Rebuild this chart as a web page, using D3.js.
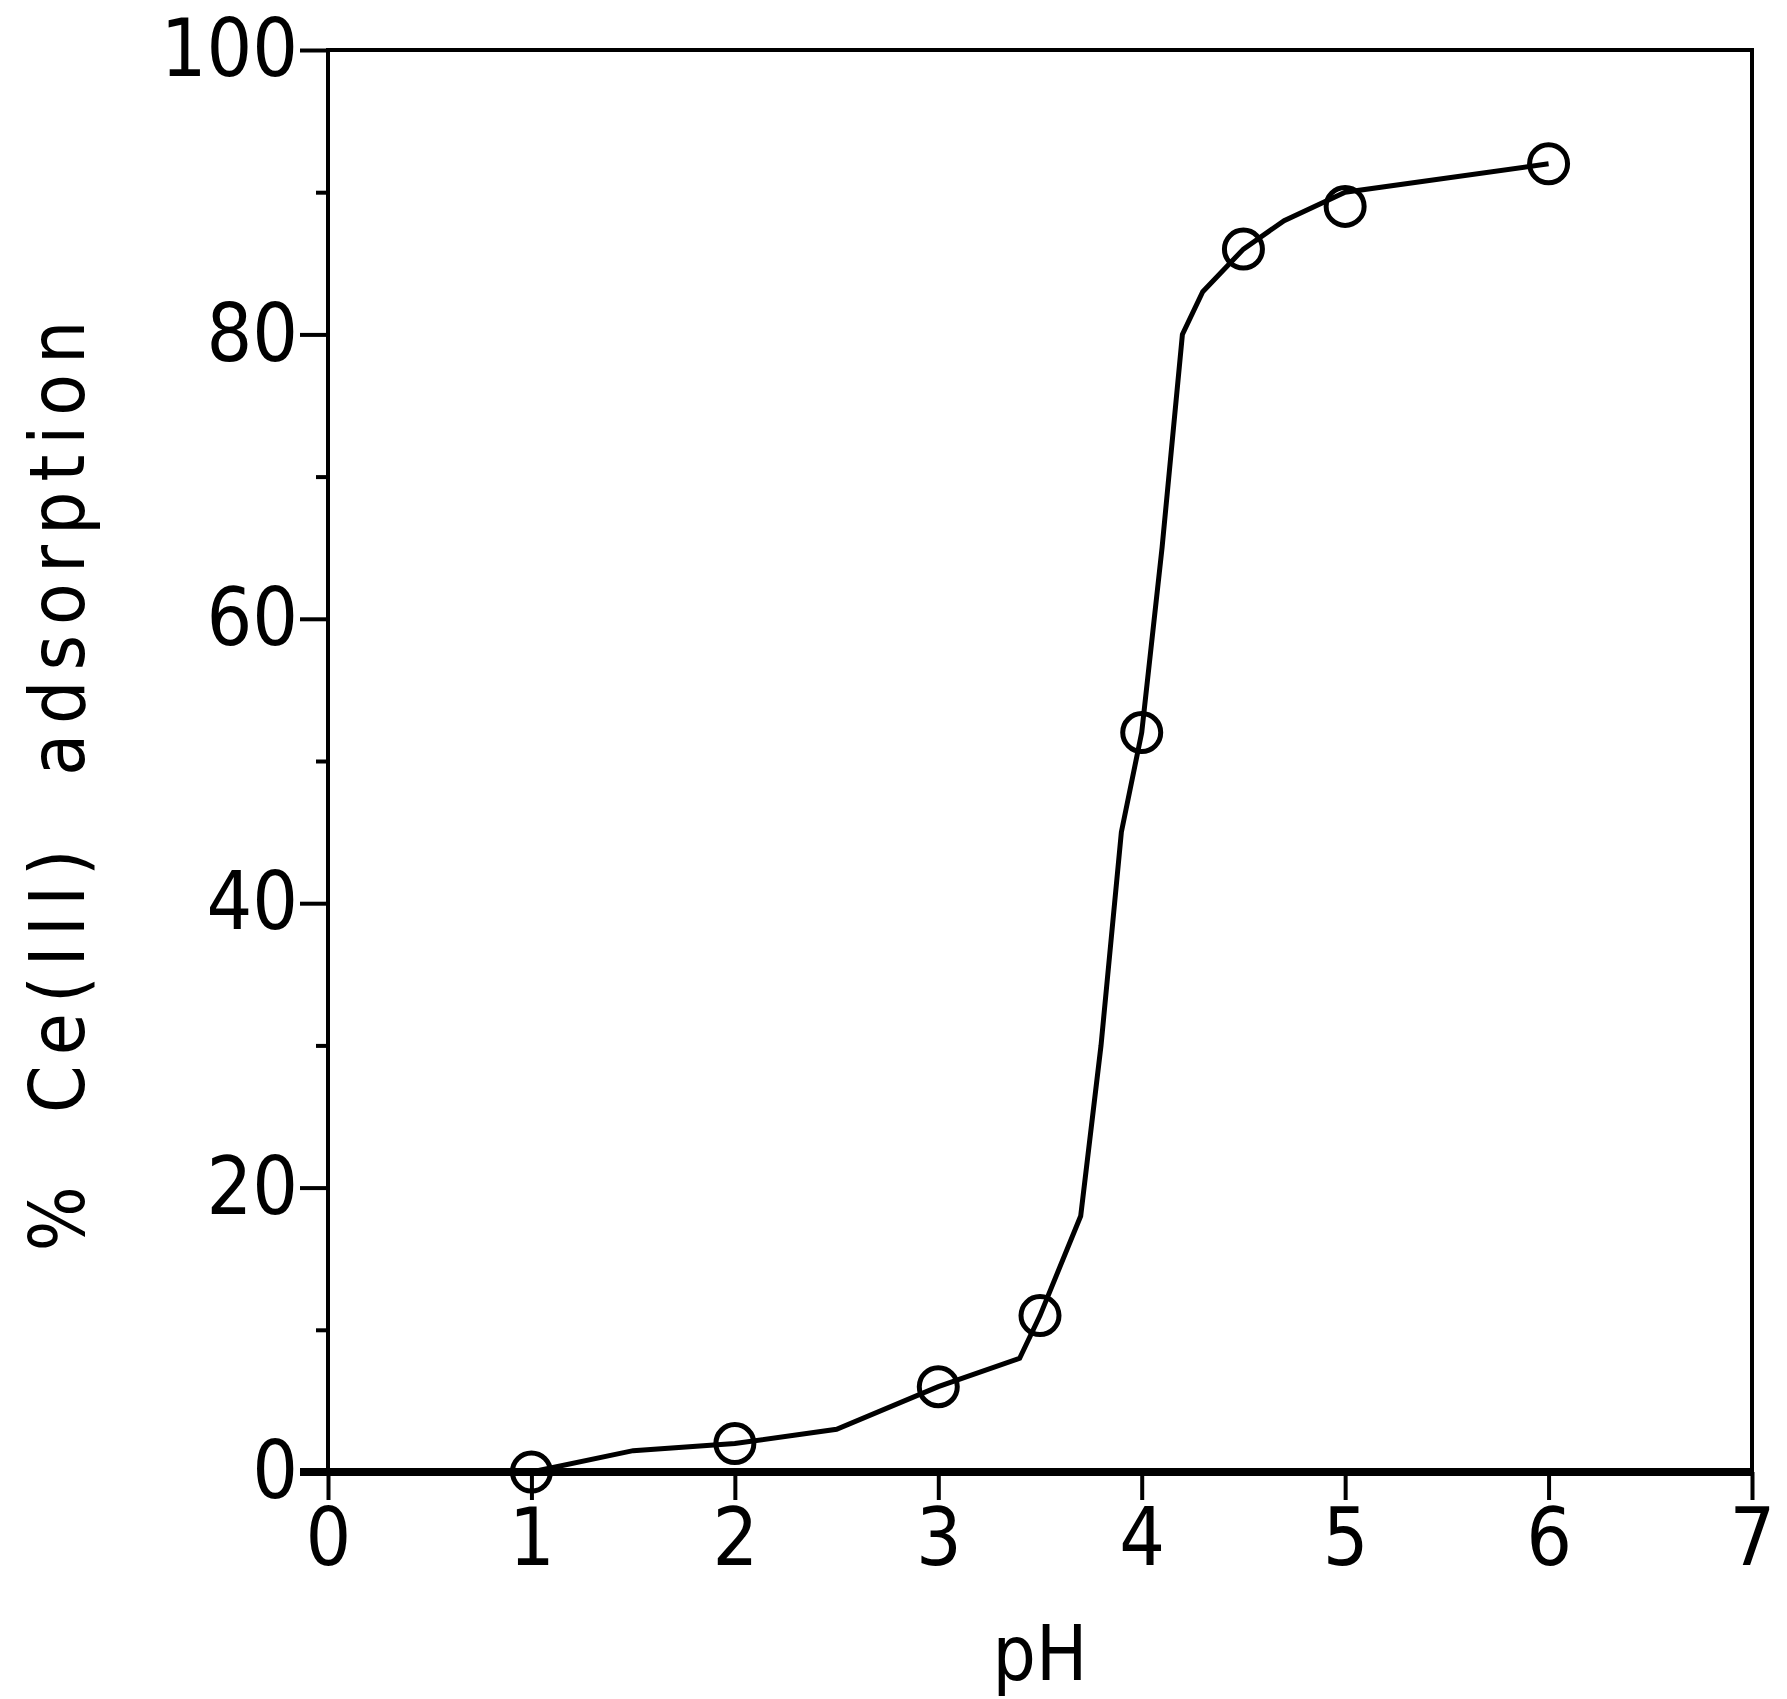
<!DOCTYPE html>
<html><head><meta charset="utf-8">
<script src="https://cdn.jsdelivr.net/npm/d3@7"></script>
<style>body{margin:0;background:#fff}text{font-family:"DejaVu Sans Condensed","DejaVu Sans",sans-serif;fill:#000}</style>
</head><body>
<script>
// measured points
var markerPH = [1, 2, 3, 3.5, 4, 4.5, 5, 6];
var markerAds = [0, 2, 6, 11, 52, 86, 89, 92];
// smoothed fit line
var linePH = [1, 1.5, 2, 2.5, 3, 3.4, 3.5, 3.7, 3.8, 3.9, 4, 4.1, 4.2, 4.3, 4.5, 4.7, 5, 6];
var lineAds = [0, 1.5, 2, 3, 6, 8, 11, 18, 30, 45, 52, 65, 80, 83, 86, 88, 90, 92];
var xTicks = [0, 1, 2, 3, 4, 5, 6, 7];
var yTicks = [0, 20, 40, 60, 80, 100];
var yMinor = [10, 30, 50, 70, 90];

var W = 1787, H = 1699;
var m = {left: 328, right: 1752, top: 50, bottom: 1472};

var svg = d3.select('body').append('svg').attr('width', W).attr('height', H);

var x = d3.scaleLinear().domain([0, 7]).range([m.left, m.right]);
var y = d3.scaleLinear().domain([0, 100]).range([m.bottom, m.top]);

// frame
svg.append('rect')
  .attr('x', m.left).attr('y', m.top)
  .attr('width', m.right - m.left).attr('height', m.bottom - m.top)
  .attr('fill', 'none').attr('stroke', '#000').attr('stroke-width', 4);

svg.append('g').attr('transform', 'translate(0,' + m.bottom + ')')
  .call(d3.axisBottom(x).tickValues(xTicks).tickFormat(d3.format('d')).tickSize(28).tickPadding(8).tickSizeOuter(0));
svg.append('g').attr('transform', 'translate(' + m.left + ',0)')
  .call(d3.axisLeft(y).tickValues(yTicks).tickFormat(d3.format('d')).tickSize(28).tickPadding(2).tickSizeOuter(0));
svg.append('g').attr('transform', 'translate(' + m.left + ',0)')
  .call(d3.axisLeft(y).tickValues(yMinor).tickSize(12).tickFormat('').tickSizeOuter(0));

svg.selectAll('.domain').remove();
svg.selectAll('.tick line').attr('stroke', '#000').attr('stroke-width', 4);
svg.selectAll('.tick text').attr('font-size', 80).attr('font-family', '"DejaVu Sans Condensed","DejaVu Sans",sans-serif');
svg.append('line').attr('x1', m.left - 28).attr('x2', m.right)
  .attr('y1', m.bottom).attr('y2', m.bottom).attr('stroke', '#000').attr('stroke-width', 8);

var line = d3.line().x(function(d) { return x(d[0]); }).y(function(d) { return y(d[1]); });
svg.append('path')
  .datum(d3.zip(linePH, lineAds))
  .attr('d', line).attr('fill', 'none').attr('stroke', '#000').attr('stroke-width', 5);

svg.selectAll('.pt').data(d3.zip(markerPH, markerAds)).enter().append('circle')
  .attr('cx', function(d) { return x(d[0]); })
  .attr('cy', function(d) { return y(d[1]); })
  .attr('r', 19).attr('fill', 'none').attr('stroke', '#000').attr('stroke-width', 5);

svg.append('text').attr('x', (m.left + m.right) / 2).attr('y', 1680)
  .attr('text-anchor', 'middle').attr('font-size', 76).text('pH');

svg.append('text').attr('transform', 'translate(84,' + ((m.top + m.bottom) / 2 + 20) + ') rotate(-90)')
  .attr('text-anchor', 'middle').attr('font-size', 76).attr('letter-spacing', 10)
  .style('white-space', 'pre').text('%  Ce(III)  adsorption');
</script>
</body></html>
